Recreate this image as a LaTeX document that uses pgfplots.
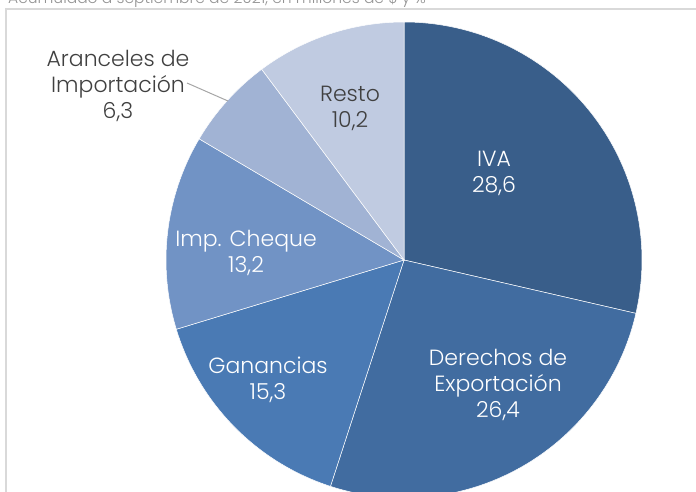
\documentclass[border=0pt]{standalone}
\usepackage{fontspec}
\setmainfont{Poppins}[UprightFont={* Light}]
\usepackage{pgfplots}
\usepackage{pgfplotstable}
\pgfplotsset{compat=1.18}

\definecolor{pie0}{HTML}{395E8A}
\definecolor{pie1}{HTML}{416CA0}
\definecolor{pie2}{HTML}{4A7AB4}
\definecolor{pie3}{HTML}{7193C5}
\definecolor{pie4}{HTML}{A1B3D4}
\definecolor{pie5}{HTML}{C0CBE1}
\definecolor{txt}{HTML}{404040}
\definecolor{frame}{HTML}{D9D9D9}

% recaudacion, acumulado a septiembre 2021 (%)
\pgfplotstableread[col sep=comma]{
label,value
IVA,28.6
Derechos de Exportacion,26.4
Ganancias,15.3
Imp. Cheque,13.2
Aranceles de Importacion,6.3
Resto,10.2
}\pietable

\begin{document}
\begin{tikzpicture}[x=1pt,y=1pt]
\useasboundingbox (0,0) rectangle (696,491);
\clip (0,0) rectangle (696,491);
\draw[frame, line width=1.5pt] (6,-20) -- (6,482) -- (720,482);
\node[anchor=base west, text=gray!85, inner sep=0pt, font=\fontsize{15.5}{18}\selectfont] at (8,487) {Acumulado a septiembre de 2021, en millones de \$ y \%};

\begin{axis}[hide axis, scale only axis, width=476pt, height=476pt,
  xmin=-1, xmax=1, ymin=-1, ymax=1, clip=false,
  at={(404pt,231pt)}, anchor=center]
\gdef\angA{90}
\pgfplotsforeachungrouped \i in {0,...,5}{%
  \pgfplotstablegetelem{\i}{value}\of\pietable
  \pgfmathsetmacro\angB{\angA-3.6*\pgfplotsretval}%
  \pgfmathsetmacro\xa{cos(\angA)}%
  \pgfmathsetmacro\ya{sin(\angA)}%
  \edef\wedge{\noexpand\fill[pie\i, draw=white, line width=0.5pt]
    (axis cs:0,0) -- (axis cs:\xa,\ya)
    arc[start angle=\angA, end angle=\angB, radius=238pt] -- cycle;}%
  \wedge
  \global\let\angA\angB
}
\end{axis}

\tikzset{lbl/.style={align=center, font=\fontsize{22}{26}\selectfont}}
\node[lbl, text=white] at (494,318) {IVA\\28,6};
\node[lbl, text=white] at (498,106) {Derechos de\\Exportación\\26,4};
\node[lbl, text=white] at (268,111) {Ganancias\\15,3};
\node[lbl, text=white] at (246,238) {Imp. Cheque\\13,2};
\node[lbl, text=txt] at (350,383) {Resto\\10,2};
\node[lbl, text=txt] at (118,405) {Aranceles de\\Importación\\6,3};
\draw[gray!70, line width=1pt] (187,408) -- (228,390);
\end{tikzpicture}
\end{document}
